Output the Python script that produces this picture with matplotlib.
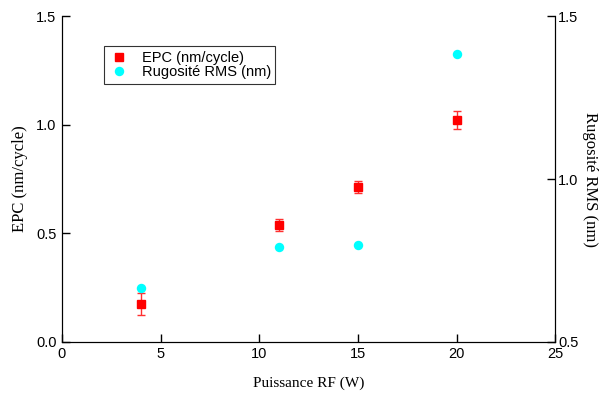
import numpy as np
import matplotlib
matplotlib.use('Agg')
import matplotlib.pyplot as plt
from matplotlib.lines import Line2D

# Data
puissance = [4, 11, 15, 20]
epc = [0.176, 0.537, 0.713, 1.022]
epc_err = [0.05, 0.028, 0.027, 0.04]
rugosite = [0.666, 0.792, 0.797, 1.384]

plt.rcParams['font.family'] = ['Liberation Sans', 'DejaVu Sans']
serif = ['Liberation Serif', 'DejaVu Serif']

fig = plt.figure(figsize=(6.04, 3.94), dpi=100)
ax = fig.add_axes([0.1026, 0.132, 0.8169, 0.827])
ax2 = ax.twinx()

ax.errorbar(puissance, epc, yerr=epc_err, fmt='s', color='red', ms=5.8,
            ecolor='#ff3030', elinewidth=1, capsize=3, capthick=1,
            zorder=3)
ax2.plot(puissance, rugosite, 'o', color='cyan', ms=6.8, mec='none')

ax.set_xlim(0, 25)
ax.set_ylim(0, 1.5)
ax2.set_ylim(0.5, 1.5)
ax.set_xticks([0, 5, 10, 15, 20, 25])
ax.set_yticks([0, 0.5, 1.0, 1.5])
ax2.set_yticks([0.5, 1.0, 1.5])
ax.yaxis.set_major_formatter(matplotlib.ticker.FormatStrFormatter('%.1f'))
ax2.yaxis.set_major_formatter(matplotlib.ticker.FormatStrFormatter('%.1f'))

for a in (ax, ax2):
    a.spines['top'].set_visible(False)
    a.tick_params(direction='in', length=6, width=1, labelsize=10.5, pad=2)
ax.tick_params(axis='y', pad=4)
ax.tick_params(axis='x', pad=3.5)

ax.set_xlabel('Puissance RF (W)', family=serif, fontsize=11, labelpad=11)
ax.set_ylabel('EPC (nm/cycle)', family=serif, fontsize=12, labelpad=6)
ax2.set_ylabel('Rugosité RMS (nm)', family=serif, fontsize=12,
               rotation=270, labelpad=14)

handles = [Line2D([], [], ls='none', marker='s', color='red', ms=5.8),
           Line2D([], [], ls='none', marker='o', color='cyan', mec='none', ms=6.8)]
labels = ['EPC (nm/cycle)', 'Rugosité RMS (nm)']
leg = ax2.legend(handles, labels, loc='upper left',
                 bbox_to_anchor=(0.07, 0.93), fontsize=10.5,
                 frameon=True, fancybox=False, edgecolor='black',
                 borderpad=0.3, handletextpad=0.8, labelspacing=0.05,
                 handlelength=1.5)
leg.get_frame().set_linewidth(0.8)

fig.savefig('out.png', dpi=100)
